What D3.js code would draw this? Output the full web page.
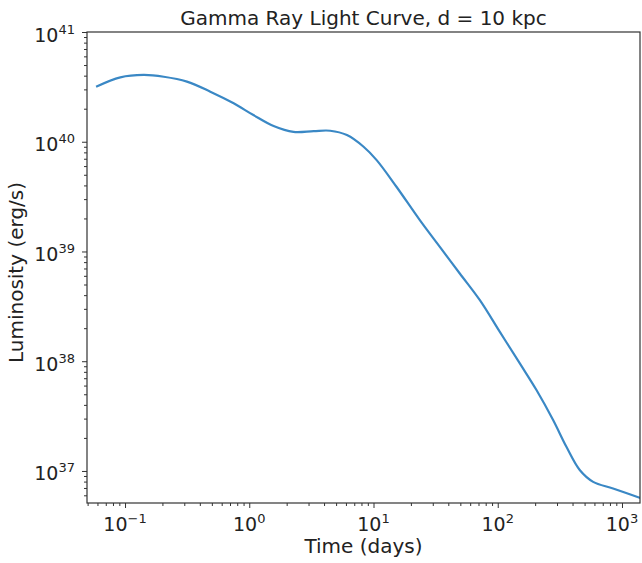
<!DOCTYPE html>
<html>
<head>
<meta charset="utf-8">
<script src="https://cdn.jsdelivr.net/npm/d3@7"></script>
<style>
  body { margin: 0; background: #fff; }
  text { font-family: "DejaVu Sans", sans-serif; fill: #222; }
</style>
</head>
<body>
<div id="chart"></div>
<script>
// light curve: time (days) and luminosity (erg/s)
var timeDays = [0.0585, 0.0917, 0.141, 0.205, 0.315, 0.486, 0.749, 1.08, 1.57, 2.27, 3.30, 4.48, 6.11, 8.32,
                10.6, 15.3, 23.6, 34.2, 49.5, 71.8, 104, 151, 205, 279, 357, 457, 586, 848, 1442];
var luminosity = [3.17e40, 3.86e40, 4.06e40, 3.91e40, 3.53e40, 2.86e40, 2.24e40, 1.75e40, 1.39e40, 1.23e40,
                  1.25e40, 1.26e40, 1.15e40, 9.0e39, 6.8e39, 3.89e39, 1.93e39, 1.10e39, 6.3e38, 3.6e38,
                  1.85e38, 9.5e37, 5.46e37, 2.91e37, 1.66e37, 1.02e37, 7.96e36, 6.93e36, 5.61e36];
var xExponents = [-1, 0, 1, 2, 3];
var yExponents = [37, 38, 39, 40, 41];

var width = 642, height = 563;
var margin = { top: 32, right: 2, bottom: 60, left: 87 };
var w = width - margin.left - margin.right,
    h = height - margin.top - margin.bottom;

var svg = d3.select("#chart")
  .append("svg")
    .attr("width", width)
    .attr("height", height);

var g = svg.append("g")
  .attr("transform", "translate(" + margin.left + "," + margin.top + ")");

var x = d3.scaleLog()
  .domain([Math.pow(10, -1.306), Math.pow(10, 3.145)])
  .range([0, w]);

var y = d3.scaleLog()
  .domain([Math.pow(10, 36.708), 1e41])
  .range([h, 0]);

// minor ticks, 2..9 of each decade
function minors(scale) {
  var d = scale.domain(), out = [];
  for (var e = Math.floor(Math.log10(d[0])); e <= Math.ceil(Math.log10(d[1])); e++) {
    for (var m = 2; m <= 9; m++) {
      var v = m * Math.pow(10, e);
      if (v >= d[0] && v <= d[1]) out.push(v);
    }
  }
  return out;
}

var tickCol = "#333";

// x axis
g.append("g")
  .attr("transform", "translate(0," + h + ")")
  .call(d3.axisBottom(x).tickValues(minors(x)).tickSize(3).tickFormat(""))
  .call(function(s) { s.select(".domain").remove(); s.selectAll("line").attr("stroke", tickCol); });

var xAxis = g.append("g")
  .attr("transform", "translate(0," + h + ")")
  .call(d3.axisBottom(x).tickValues(xExponents.map(function(e) { return Math.pow(10, e); })).tickSize(5).tickFormat(""));
xAxis.select(".domain").remove();
xAxis.selectAll("line").attr("stroke", tickCol);

// y axis
g.append("g")
  .call(d3.axisLeft(y).tickValues(minors(y)).tickSize(3).tickFormat(""))
  .call(function(s) { s.select(".domain").remove(); s.selectAll("line").attr("stroke", tickCol); });

var yAxis = g.append("g")
  .call(d3.axisLeft(y).tickValues(yExponents.map(function(e) { return Math.pow(10, e); })).tickSize(5).tickFormat(""));
yAxis.select(".domain").remove();
yAxis.selectAll("line").attr("stroke", tickCol);

// tick labels as 10 with superscript exponent
function powLabel(sel, e) {
  sel.append("tspan").text("10");
  sel.append("tspan")
    .attr("dy", -8)
    .style("font-size", "13px")
    .text(e < 0 ? "\u2212" + Math.abs(e) : e);
}

xExponents.forEach(function(e) {
  var t = g.append("text")
    .attr("x", x(Math.pow(10, e)))
    .attr("y", h + 28)
    .attr("text-anchor", "middle")
    .style("font-size", "19px");
  powLabel(t, e);
});

yExponents.forEach(function(e) {
  var t = g.append("text")
    .attr("x", -12)
    .attr("y", y(Math.pow(10, e)) + 9.5)
    .attr("text-anchor", "end")
    .style("font-size", "19px");
  powLabel(t, e);
});

// the curve
var pts = timeDays.map(function(t, i) { return { t: t, l: luminosity[i] }; });

g.append("clipPath").attr("id", "clip")
  .append("rect").attr("width", w).attr("height", h);

g.append("path")
  .datum(pts)
  .attr("clip-path", "url(#clip)")
  .attr("fill", "none")
  .attr("stroke", "#3a88c5")
  .attr("stroke-width", 2.2)
  .attr("d", d3.line()
    .x(function(d) { return x(d.t); })
    .y(function(d) { return y(d.l); })
    .curve(d3.curveCatmullRom.alpha(0.5)));

// frame
g.append("rect")
  .attr("width", w)
  .attr("height", h)
  .attr("fill", "none")
  .attr("stroke", tickCol)
  .attr("stroke-width", 1.2);

// labels
svg.append("text")
  .attr("x", margin.left + w / 2)
  .attr("y", 25)
  .attr("text-anchor", "middle")
  .style("font-size", "20px")
  .text("Gamma Ray Light Curve, d = 10 kpc");

svg.append("text")
  .attr("x", margin.left + w / 2)
  .attr("y", 553)
  .attr("text-anchor", "middle")
  .style("font-size", "20px")
  .text("Time (days)");

svg.append("text")
  .attr("transform", "translate(23," + (margin.top + h / 2 + 5) + ") rotate(-90)")
  .attr("text-anchor", "middle")
  .style("font-size", "20px")
  .text("Luminosity (erg/s)");
</script>
</body>
</html>
